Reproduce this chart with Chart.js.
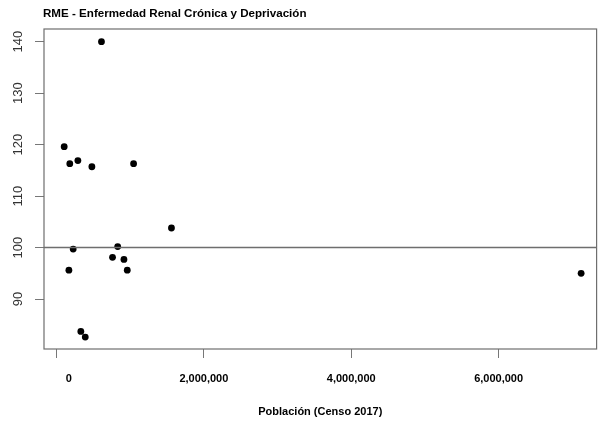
<!DOCTYPE html>
<html>
<head>
<meta charset="utf-8">
<script src="https://cdn.jsdelivr.net/npm/chart.js@4/dist/chart.umd.min.js"></script>
<style>
html,body{margin:0;padding:0;background:#fff;}
#wrap{width:600px;height:422px;position:relative;}
</style>
</head>
<body>
<div id="wrap"><canvas id="c" width="600" height="422" style="width:600px;height:422px"></canvas></div>
<script>
const chartTitle = "RME - Enfermedad Renal Crónica y Deprivación";
const xAxisTitle = "Población (Censo 2017)";
const poblacion = [610000, 104000, 180000, 290000, 480000, 1046000, 226000, 168000, 830000, 760000, 915000, 960000, 1560000, 330000, 390000, 7120000];
const rme = [140.0, 119.6, 116.3, 116.9, 115.7, 116.3, 99.7, 95.6, 100.2, 98.1, 97.7, 95.6, 103.8, 83.7, 82.6, 95.0];
const xTickValues = [0, 2000000, 4000000, 6000000];
const xTickLabels = ["        0", "2,000,000", "4,000,000", "6,000,000"];
const yTickValues = [90, 100, 110, 120, 130, 140];
const yTickLabels = ["90", "100", "110", "120", "130", "140"];
const refValue = 100;

const FONT = "'Liberation Sans', Arial, Helvetica, sans-serif";

const rPlot = {
  id: 'rPlot',
  afterDraw(chart) {
    const ctx = chart.ctx;
    const a = chart.chartArea;
    const ys = chart.scales.y;
    ctx.save();
    const yr = ys.getPixelForValue(refValue);
    ctx.strokeStyle = '#6e6e6e';
    ctx.lineWidth = 1.5;
    ctx.beginPath();
    ctx.moveTo(a.left, yr);
    ctx.lineTo(a.right, yr);
    ctx.stroke();
    ctx.strokeStyle = '#6e6e6e';
    ctx.lineWidth = 1.2;
    ctx.strokeRect(a.left, a.top, a.right - a.left, a.bottom - a.top);
    ctx.fillStyle = '#333';
    ctx.font = "13px " + FONT;
    ctx.textAlign = 'center';
    ctx.textBaseline = 'middle';
    yTickValues.forEach((v, i) => {
      const y = ys.getPixelForValue(v);
      ctx.save();
      ctx.translate(a.left - 26, y);
      ctx.rotate(-Math.PI / 2);
      ctx.fillText(yTickLabels[i], 0, 0);
      ctx.restore();
    });
    ctx.fillStyle = '#000';
    ctx.font = "bold 11.6px " + FONT;
    ctx.textAlign = 'left';
    ctx.textBaseline = 'middle';
    ctx.fillText(chartTitle, a.left - 1, 14);
    ctx.restore();
  }
};

new Chart(document.getElementById('c'), {
  type: 'scatter',
  data: {
    datasets: [{
      data: poblacion.map((p, i) => ({x: p, y: rme[i]})),
      backgroundColor: '#000',
      borderColor: '#000',
      pointRadius: 3.4,
      pointHoverRadius: 3.4,
      borderWidth: 0
    }]
  },
  options: {
    responsive: false,
    animation: false,
    events: [],
    layout: {padding: {left: 0, right: 0, top: 29, bottom: 0}},
    plugins: {legend: {display: false}, tooltip: {enabled: false}, title: {display: false}},
    scales: {
      x: {
        type: 'linear',
        min: -170000,
        max: 7330000,
        afterBuildTicks: s => { s.ticks = xTickValues.map(v => ({value: v})); },
        afterFit: s => { s.height = 73; },
        grid: {drawOnChartArea: false, drawTicks: true, tickLength: 9, color: '#777', lineWidth: 1},
        border: {display: false},
        ticks: {
          autoSkip: false, maxRotation: 0, minRotation: 0,
          padding: 14,
          color: '#000',
          font: {family: FONT, size: 11, weight: 'bold'},
          callback: (v, i) => xTickLabels[i]
        },
        title: {
          display: true, text: xAxisTitle, color: '#000',
          font: {family: FONT, size: 11, weight: 'bold'},
          padding: {top: 14, bottom: 3}
        }
      },
      y: {
        type: 'linear',
        min: 80.29,
        max: 142.47,
        afterBuildTicks: s => { s.ticks = yTickValues.map(v => ({value: v})); },
        afterFit: s => { s.width = 44; },
        grid: {drawOnChartArea: false, drawTicks: true, tickLength: 9, color: '#777', lineWidth: 1},
        border: {display: false},
        ticks: {display: false}
      }
    }
  },
  plugins: [rPlot]
});
</script>
</body>
</html>
